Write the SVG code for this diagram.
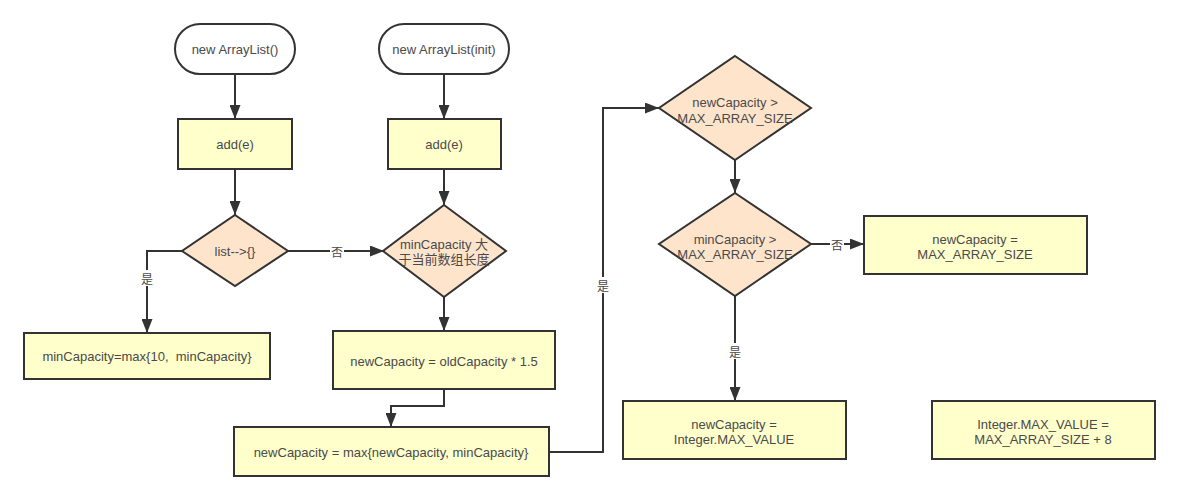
<svg xmlns="http://www.w3.org/2000/svg" width="1177" height="500" viewBox="0 0 1177 500">
<defs>
<style>
.box{fill:#ffffcc;stroke:#333;stroke-width:2}
.dia{fill:#ffe4cc;stroke:#333;stroke-width:2}
.term{fill:#fff;stroke:#333;stroke-width:2}
.t{font-family:"Liberation Sans","Noto Sans CJK SC",sans-serif;font-size:13px;fill:#4a4a4a;text-anchor:middle;dominant-baseline:central;white-space:pre}
.lbl{font-family:"Noto Sans CJK SC","Liberation Sans",sans-serif;font-size:12px;fill:#4a4a4a;text-anchor:middle;dominant-baseline:central}
.e{fill:none;stroke:#333;stroke-width:2}
.bg{fill:#fff}
</style>
<marker id="arr" viewBox="0 0 14 11" refX="14" refY="5.5" markerWidth="14" markerHeight="11" orient="auto" markerUnits="userSpaceOnUse"><path d="M0,0 L14,5.5 L0,11 z" fill="#333"/></marker>
</defs>
<rect width="1177" height="500" fill="#fff"/>
<g id="connectors">
<path class="e" d="M235,74 L235,119" marker-end="url(#arr)"/>
<path class="e" d="M235,169 L235,215" marker-end="url(#arr)"/>
<path class="e" d="M444,74 L444,119" marker-end="url(#arr)"/>
<path class="e" d="M444,169 L444,205" marker-end="url(#arr)"/>
<path class="e" d="M288,251 L384,251" marker-end="url(#arr)"/>
<path class="e" d="M182,251 L147,251 L147,333" marker-end="url(#arr)"/>
<path class="e" d="M444,297 L444,331" marker-end="url(#arr)"/>
<path class="e" d="M444,389 L444,406 L391,406 L391,427" marker-end="url(#arr)"/>
<path class="e" d="M549,452 L603,452 L603,108 L659,108" marker-end="url(#arr)"/>
<path class="e" d="M735,160 L735,193" marker-end="url(#arr)"/>
<path class="e" d="M811,244 L864,244" marker-end="url(#arr)"/>
<path class="e" d="M735,296 L735,401" marker-end="url(#arr)"/>
<rect class="bg" x="330" y="243" width="14" height="16"/><text class="lbl" x="337" y="251">否</text>
<rect class="bg" x="140" y="270" width="14" height="16"/><text class="lbl" x="147" y="278">是</text>
<rect class="bg" x="596" y="277" width="14" height="16"/><text class="lbl" x="603" y="285">是</text>
<rect class="bg" x="830" y="236" width="14" height="16"/><text class="lbl" x="837" y="244">否</text>
<rect class="bg" x="728" y="343" width="14" height="16"/><text class="lbl" x="735" y="351">是</text>
</g>
<g id="start1"><rect class="term" x="175" y="24" width="120" height="50" rx="25"/><text class="t" x="235" y="49">new ArrayList()</text></g>
<g id="start2"><rect class="term" x="379" y="24" width="130" height="50" rx="25"/><text class="t" x="444" y="49">new ArrayList(init)</text></g>
<g id="add1"><rect class="box" x="178" y="119" width="114" height="50"/><text class="t" x="235" y="144">add(e)</text></g>
<g id="add2"><rect class="box" x="388" y="119" width="113" height="50"/><text class="t" x="444" y="144">add(e)</text></g>
<g id="dec1"><polygon class="dia" points="235,215 288,251 235,286 182,251"/><text class="t" x="235" y="251">list--&gt;{}</text></g>
<g id="dec2"><polygon class="dia" points="444,205 506,251 444,297 383,251"/><text class="t" x="444" y="244">minCapacity 大</text><text class="t" x="444" y="259">于当前数组长度</text></g>
<g id="minbox"><rect class="box" x="24" y="333" width="246" height="46"/><text class="t" x="147" y="356" xml:space="preserve">minCapacity=max{10,  minCapacity}</text></g>
<g id="oldbox"><rect class="box" x="333" y="331" width="222" height="58"/><text class="t" x="444" y="361">newCapacity = oldCapacity * 1.5</text></g>
<g id="maxbox"><rect class="box" x="234" y="427" width="315" height="49"/><text class="t" x="391" y="452">newCapacity = max{newCapacity, minCapacity}</text></g>
<g id="dec3"><polygon class="dia" points="735,56 811,108 735,160 659,108"/><text class="t" x="735" y="102">newCapacity &gt;</text><text class="t" x="735" y="118">MAX_ARRAY_SIZE</text></g>
<g id="dec4"><polygon class="dia" points="735,193 811,244 735,296 659,244"/><text class="t" x="735" y="239">minCapacity &gt;</text><text class="t" x="735" y="254">MAX_ARRAY_SIZE</text></g>
<g id="setmax"><rect class="box" x="864" y="216" width="223" height="58"/><text class="t" x="975" y="239">newCapacity =</text><text class="t" x="975" y="254">MAX_ARRAY_SIZE</text></g>
<g id="setint"><rect class="box" x="623" y="401" width="223" height="58"/><text class="t" x="734" y="424">newCapacity =</text><text class="t" x="734" y="439">Integer.MAX_VALUE</text></g>
<g id="note"><rect class="box" x="932" y="401" width="223" height="58"/><text class="t" x="1043" y="424">Integer.MAX_VALUE =</text><text class="t" x="1043" y="439">MAX_ARRAY_SIZE + 8</text></g>
</svg>
